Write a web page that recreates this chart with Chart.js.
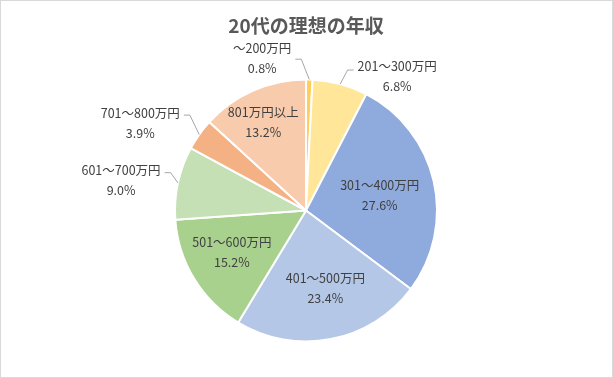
<!DOCTYPE html>
<html>
<head>
<meta charset="utf-8">
<script src="https://cdn.jsdelivr.net/npm/chart.js@4"></script>
<style>
  html, body { margin: 0; padding: 0; background: #fff; }
  .frame { position: relative; width: 611px; height: 376px; border: 1px solid #d9d9d9; }
  canvas { position: absolute; left: -1px; top: -1px; }
</style>
</head>
<body>
<div class="frame"><canvas id="pie" width="613" height="378"></canvas></div>
<script>
const title = '20代の理想の年収';
const categories = ['～200万円', '201～300万円', '301～400万円', '401～500万円', '501～600万円', '601～700万円', '701～800万円', '801万円以上'];
const shares = [0.8, 6.8, 27.6, 23.4, 15.2, 9.0, 3.9, 13.2];
const colors = ['#FFCF5A', '#FFE699', '#8FAADC', '#B4C7E7', '#A9D18E', '#C5E0B4', '#F4B183', '#F8CBAD'];

// where each label sits: radius as a share of the pie radius, angle nudge in degrees
const labelSpots = [
  { r: 1.21, da: -17.5, outside: true, attachDy: 11 },
  { r: 1.24, da: 19, outside: true, attachDy: 4 },
  { r: 0.575, da: 1 },
  { r: 0.61, da: -3 },
  { r: 0.65, da: 2 },
  { r: 1.43, da: -3, outside: true, attachDy: 2 },
  { r: 1.43, da: -7.6, outside: true, attachDy: 2 },
  { r: 0.75, da: -2 },
];

const labelFont = '12.5px "Noto Sans CJK JP", "Noto Sans", sans-serif';

const sliceLabels = {
  id: 'sliceLabels',
  afterDatasetsDraw(chart) {
    const { ctx } = chart;
    const meta = chart.getDatasetMeta(0);
    ctx.save();
    ctx.font = labelFont;
    ctx.textAlign = 'center';
    ctx.textBaseline = 'middle';
    meta.data.forEach((arc, i) => {
      const spot = labelSpots[i];
      const { x, y, startAngle, endAngle, outerRadius } = arc.getProps(['x', 'y', 'startAngle', 'endAngle', 'outerRadius'], true);
      const mid = (startAngle + endAngle) / 2;
      const ang = mid + spot.da * Math.PI / 180;
      const cx = x + Math.cos(ang) * outerRadius * spot.r;
      const cy = y + Math.sin(ang) * outerRadius * spot.r;
      const line1 = categories[i];
      const line2 = shares[i].toFixed(1) + '%';
      const y1 = cy - 10;
      const y2 = cy + 10;

      if (spot.outside) {
        const w = ctx.measureText(line1).width;
        const ex = x + Math.cos(mid) * outerRadius;
        const ey = y + Math.sin(mid) * outerRadius;
        const right = cx < x;
        const tx = right ? cx + w / 2 + 4 : cx - w / 2 - 4;
        const ty = y1 + spot.attachDy;
        ctx.strokeStyle = '#a6a6a6';
        ctx.lineWidth = 1;
        ctx.beginPath();
        ctx.moveTo(tx, ty);
        ctx.lineTo(tx + (right ? 6 : -6), ty);
        ctx.lineTo(ex, ey);
        ctx.stroke();
      }

      ctx.fillStyle = '#404040';
      ctx.fillText(line1, cx, y1);
      ctx.fillText(line2, cx, y2);
    });
    ctx.restore();
  },
};

new Chart(document.getElementById('pie'), {
  type: 'pie',
  data: {
    labels: categories,
    datasets: [{
      data: shares,
      backgroundColor: colors,
      borderColor: '#ffffff',
      borderWidth: 2,
      hoverOffset: 0,
      offset: 0,
    }],
  },
  options: {
    responsive: false,
    animation: false,
    events: [],
    layout: { padding: { top: 78, bottom: 35, left: 174, right: 175 } },
    plugins: {
      legend: { display: false },
      tooltip: { enabled: false },
      title: {
        display: false,
      },
    },
  },
  plugins: [sliceLabels, {
    id: 'pieTitle',
    afterDraw(chart) {
      const { ctx } = chart;
      ctx.save();
      ctx.font = 'bold 19px "Noto Sans CJK JP", "Noto Sans", sans-serif';
      ctx.fillStyle = '#595959';
      ctx.textAlign = 'center';
      ctx.textBaseline = 'middle';
      ctx.fillText(title, 306, 26);
      ctx.restore();
    },
  }],
});
</script>
</body>
</html>
